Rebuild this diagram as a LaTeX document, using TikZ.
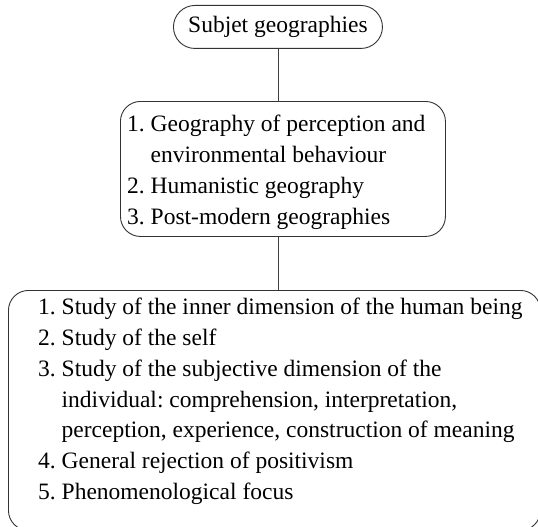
\documentclass[tikz,border=0pt]{standalone}
\usepackage{fontspec}
\setmainfont{Liberation Serif}
\frenchspacing
\begin{document}
\begin{tikzpicture}[x=1pt,y=-1pt,
  box/.style={draw=black!80,line width=0.9pt,inner sep=0pt},
  txt/.style={inner sep=0pt,align=left,font=\fontsize{23.5}{30.8}\selectfont},
  link/.style={draw=black!75,line width=0.9pt}]
\useasboundingbox (0,0) rectangle (538,527);
% boxes
\node[box,rounded corners=21.5pt,minimum width=209pt,minimum height=43pt,anchor=north west] (top) at (173,5) {};
\node[box,rounded corners=20pt,minimum width=325pt,minimum height=135pt,anchor=north west] (mid) at (120,101) {};
\node[box,rounded corners=20pt,minimum width=532pt,minimum height=240pt,anchor=north west] (bot) at (8,290) {};
% texts
\node[txt] (toptext) at (top.center) {Subjet geographies};
\node[txt,anchor=north west] (midtext) at (127,115) {1. Geography of perception and\\\hphantom{1. }environmental behaviour\\2. Humanistic geography\\3. Post-modern geographies};
\node[txt,anchor=north west] (bottext) at (38,298) {1. Study of the inner dimension of the human being\\2. Study of the self\\3. Study of the subjective dimension of the\\\hphantom{3. }individual: comprehension, interpretation,\\\hphantom{3. }perception, experience, construction of meaning\\4. General rejection of positivism\\5. Phenomenological focus};
% connectors
\draw[link] (top.south) -- (mid.north -| top.south);
\draw[link] (mid.south -| top.south) -- (bot.north -| top.south);
\end{tikzpicture}
\end{document}
